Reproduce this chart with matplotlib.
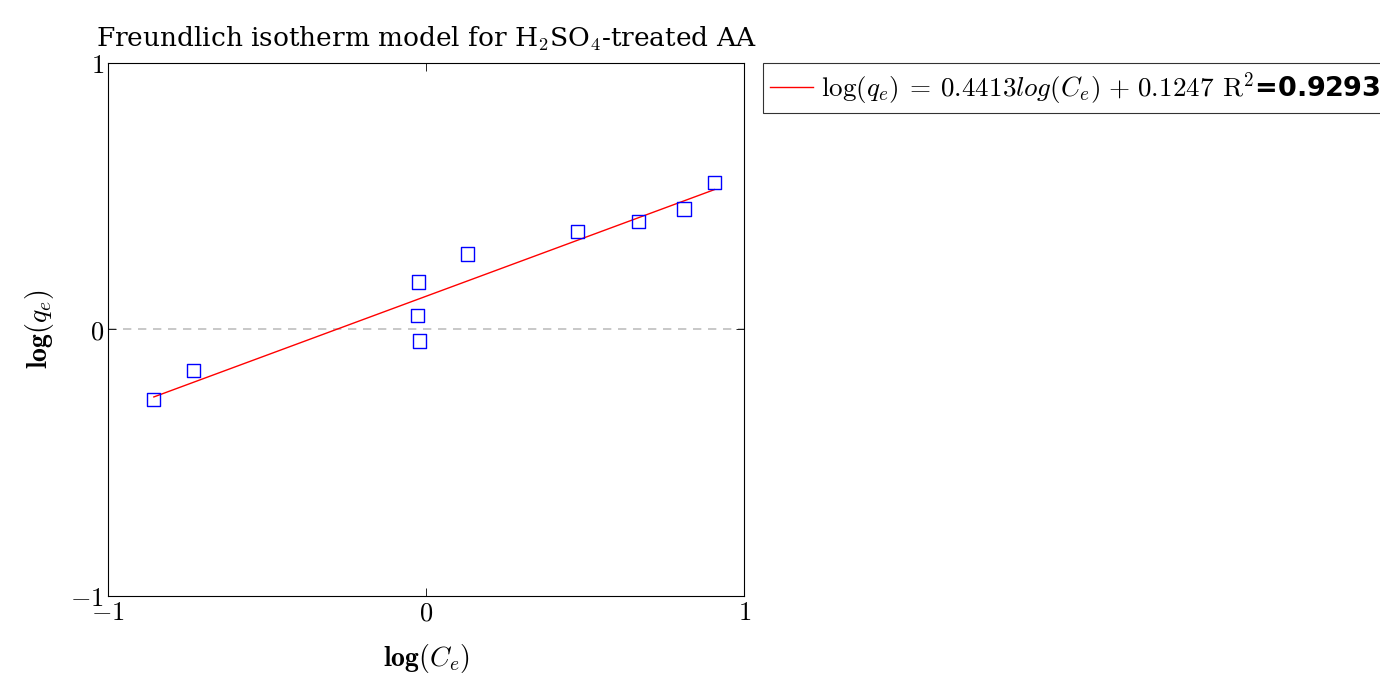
import numpy as np
import matplotlib
matplotlib.use("Agg")
import matplotlib.pyplot as plt

plt.rcParams["mathtext.fontset"] = "cm"
plt.rcParams["font.family"] = "DejaVu Serif"

# data
log_ce = [-0.856, -0.732, -0.023, -0.026, -0.021, 0.130, 0.477, 0.668, 0.811, 0.907]
log_qe = [-0.262, -0.155, 0.178, 0.053, -0.043, 0.283, 0.368, 0.406, 0.452, 0.551]
slope = 0.4413
intercept = 0.1247
r2 = 0.9293

fig = plt.figure(figsize=(13.8, 6.8), dpi=100)
ax = fig.add_axes([0.0783, 0.1235, 0.4609, 0.7839])

ax.axhline(0, color="#bfbfbf", linestyle=(0, (5, 4)), linewidth=1.2, zorder=1)

x_fit = np.array([min(log_ce), max(log_ce)])
ax.plot(x_fit, slope * x_fit + intercept, color="red", linewidth=1.0,
        label=r"$\log(q_e)\:=\:0.4413 log(C_e)\ {+}\ 0.1247$ $\mathrm{R}^2$" + "=" + f"{r2:.4f}",
        zorder=2)
ax.scatter(log_ce, log_qe, marker="s", s=90, facecolors="none",
           edgecolors="blue", linewidths=1.0, zorder=3)

ax.set_xlim(-1, 1)
ax.set_ylim(-1, 1)
ax.set_xticks([-1, 0, 1])
ax.set_yticks([-1, 0, 1])
ax.set_xticklabels([r"$-1$", r"$0$", r"$1$"])
ax.set_yticklabels([r"$-1$", r"$0$", r"$1$"])
ax.tick_params(direction="in", top=True, right=True, labelsize=19, length=6,
               width=0.6, pad=3)
for s in ax.spines.values():
    s.set_linewidth(0.8)

ax.set_xlabel(r"$\mathbf{log}(C_e)$", fontsize=20, labelpad=12)
ax.set_ylabel(r"$\mathbf{log}(q_e)$", fontsize=20, labelpad=10)
ax.set_title(r"Freundlich isotherm model for H$_2$SO$_4$-treated AA",
             fontsize=19, pad=12)

leg = ax.legend(loc="upper left", bbox_to_anchor=(1.03, 1.0), fontsize=19.5,
                frameon=True, fancybox=False, edgecolor="black",
                handlelength=1.6, handletextpad=0.3, borderaxespad=0,
                borderpad=0.25)
leg.get_frame().set_linewidth(0.8)
leg.get_texts()[0].set_family(["DejaVu Sans"])
leg.get_texts()[0].set_fontweight("bold")

fig.savefig("out.png", dpi=100)
